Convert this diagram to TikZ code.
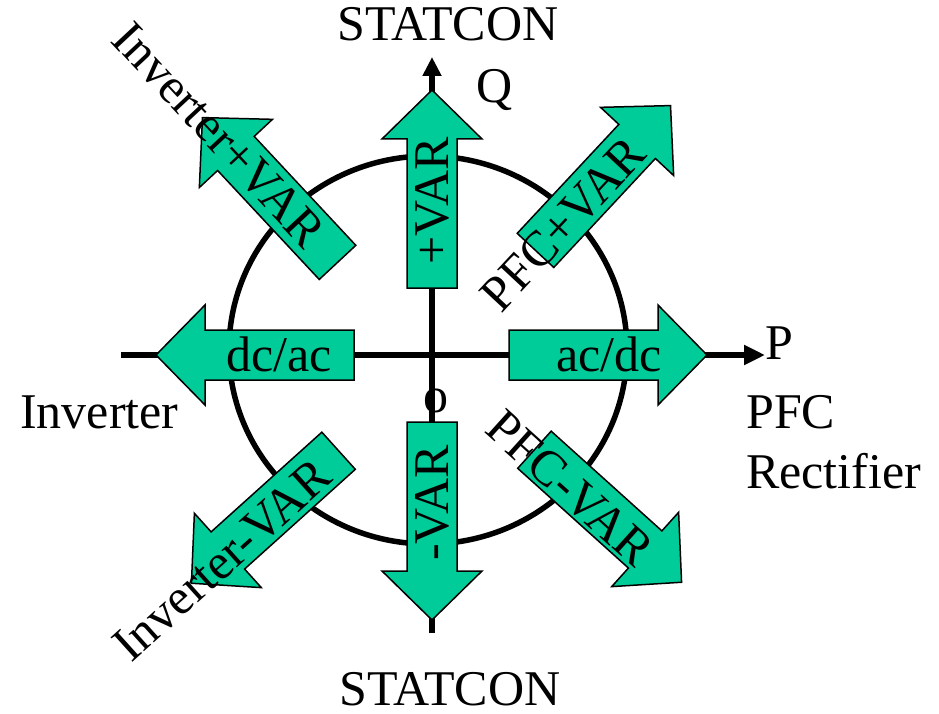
\documentclass[tikz,border=0pt]{standalone}
\usepackage{fontspec}
\setmainfont{Liberation Serif}
\usetikzlibrary{arrows.meta}

\definecolor{arrowgreen}{RGB}{0,204,153}

\tikzset{
  axisline/.style={line width=6pt},
  ring/.style={line width=5.5pt},
  arrowbody/.style={draw=black, line width=1.5pt, fill=arrowgreen, line join=miter},
  lbl/.style={inner sep=0pt, font=\fontsize{50}{60}\selectfont},
  % broad block arrow pointing along +x, centred on the origin
  fatarrow/.pic={
    \draw[arrowbody] (-99,-25) -- (50,-25) -- (50,-50) -- (99,0)
      -- (50,50) -- (50,25) -- (-99,25) -- cycle;
  }
}

\begin{document}
\begin{tikzpicture}[x=1pt, y=-1pt]
\useasboundingbox (0,0) rectangle (939,714);

% operating circle and P-Q axes
\draw[ring] (428,350) ellipse [x radius=199, y radius=194];
\coordinate (pleft) at (121,355);
\coordinate (pright) at (765,355);
\coordinate (qbottom) at (432,633);
\coordinate (qtop) at (432,57);
\draw[axisline, -{Triangle[length=21pt,width=19pt]}] (pleft) -- (pright);
\draw[axisline, -{Triangle[length=19pt,width=18pt]}] (qbottom) -- (qtop);

% power-flow block arrows
\pic[rotate=90]  at (432,189) {fatarrow};
\pic[rotate=-90] at (432,521) {fatarrow};
\pic[rotate=180] at (255,355) {fatarrow};
\pic[rotate=0]   at (608,355) {fatarrow};
\pic[rotate=133] at (270,190) {fatarrow};
\pic[rotate=47]  at (603,178) {fatarrow};
\pic[rotate=-42] at (608,516) {fatarrow};
\pic[rotate=222] at (265,517) {fatarrow};

% labels on the arrows
\node[lbl, rotate=90]  (pvar) at (432,201) {+VAR};
\node[lbl, rotate=90]  (mvar) at (432,503) {-VAR};
\node[lbl, anchor=base] (dcac) at (279,371) {dc/ac};
\node[lbl, anchor=base] (acdc) at (609,371) {ac/dc};
\node[lbl, rotate=-47] (invp) at (219,135) {Inverter+VAR};
\node[lbl, rotate=47]  (pfcp) at (563,224) {PFC+VAR};
\node[lbl, rotate=-42] (pfcm) at (570,488) {PFC-VAR};
\node[lbl, rotate=42]  (invm) at (222,560) {Inverter-VAR};

% axis and region captions
\node[lbl, anchor=base] (stattop) at (448,41) {STATCON};
\node[lbl, anchor=base] (statbot) at (450,705) {STATCON};
\node[lbl, anchor=base] (qlbl) at (495,103) {Q};
\node[lbl, anchor=base west] (plbl) at (765,359) {P};
\node[lbl, anchor=base] (olbl) at (436,412) {o};
\node[lbl, anchor=base west] (inv) at (20,428) {Inverter};
\node[lbl, anchor=base west] (pfc) at (746,428) {PFC};
\node[lbl, anchor=base west] (rect) at (746,488) {Rectifier};
\end{tikzpicture}
\end{document}
